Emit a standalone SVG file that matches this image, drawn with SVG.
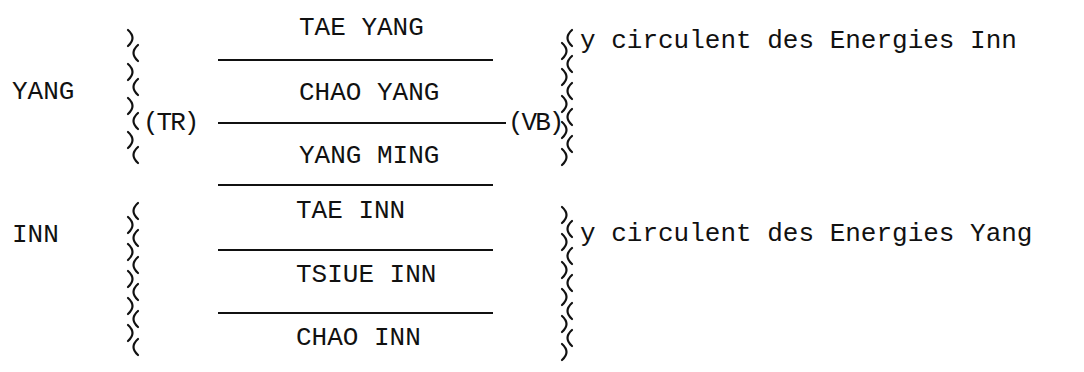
<svg xmlns="http://www.w3.org/2000/svg" width="1084" height="372" viewBox="0 0 1084 372">
<style>
text{font-family:"Liberation Mono","DejaVu Sans Mono",monospace;font-size:26px;fill:#111}
.tight{letter-spacing:-2px}
.r{stroke:#111;stroke-width:2;fill:none}
.b path{stroke:#111;stroke-width:2.2;fill:none;stroke-linecap:round}
</style>
<rect width="1084" height="372" fill="#fff"/>
<g id="label-yang"><text x="12" y="99">YANG</text></g>
<g id="label-inn"><text x="12" y="242">INN</text></g>
<g id="bracket-yang-left" class="b">
<path d="M128,30 q9,8 0,16"/><path d="M138,45 q-9,8 0,16"/>
<path d="M128,64 q9,8 0,16"/><path d="M138,79 q-9,8 0,16"/>
<path d="M128,98 q9,8 0,16"/><path d="M138,113 q-9,8 0,16"/>
<path d="M128,132 q9,8 0,16"/><path d="M138,147 q-9,8 0,16"/>
</g>
<g id="bracket-inn-left" class="b">
<path d="M138,203 q-9,8 0,16"/>
<path d="M128,217 q9,8 0,16"/><path d="M138,230 q-9,8 0,16"/>
<path d="M128,244 q9,8 0,16"/><path d="M138,257 q-9,8 0,16"/>
<path d="M128,271 q9,8 0,16"/><path d="M138,284 q-9,8 0,16"/>
<path d="M128,298 q9,8 0,16"/><path d="M138,311 q-9,8 0,16"/>
<path d="M128,325 q9,8 0,16"/><path d="M138,339 q-9,8 0,16"/>
</g>
<g id="tr"><text class="tight" x="143" y="130">(TR)</text></g>
<g id="vb"><text class="tight" x="508" y="130">(VB)</text></g>
<g id="meridians">
<text x="299" y="35">TAE YANG</text>
<text x="299" y="100">CHAO YANG</text>
<text x="299" y="163">YANG MING</text>
<text x="296" y="218">TAE INN</text>
<text x="296" y="282">TSIUE INN</text>
<text x="296" y="345">CHAO INN</text>
</g>
<g id="connectors">
<line class="r" x1="218" y1="60" x2="493" y2="60"/>
<line class="r" x1="218" y1="123" x2="506" y2="123"/>
<line class="r" x1="218" y1="185" x2="493" y2="185"/>
<line class="r" x1="218" y1="250" x2="493" y2="250"/>
<line class="r" x1="218" y1="313" x2="493" y2="313"/>
</g>
<g id="bracket-yang-right" class="b">
<path d="M572,30 q-9,8 0,16"/>
<path d="M562,43 q9,8 0,16"/><path d="M572,56 q-9,8 0,16"/>
<path d="M562,69 q9,8 0,16"/><path d="M572,83 q-9,8 0,16"/>
<path d="M562,96 q9,8 0,16"/><path d="M572,109 q-9,8 0,16"/>
<path d="M562,122 q9,8 0,16"/><path d="M572,136 q-9,8 0,16"/>
<path d="M562,149 q9,8 0,16"/>
</g>
<g id="bracket-inn-right" class="b">
<path d="M562,207 q9,8 0,16"/>
<path d="M572,221 q-9,8 0,16"/><path d="M562,234 q9,8 0,16"/>
<path d="M572,248 q-9,8 0,16"/><path d="M562,262 q9,8 0,16"/>
<path d="M572,275 q-9,8 0,16"/><path d="M562,289 q9,8 0,16"/>
<path d="M572,303 q-9,8 0,16"/><path d="M562,316 q9,8 0,16"/>
<path d="M572,330 q-9,8 0,16"/><path d="M562,344 q9,8 0,16"/>
</g>
<g id="note-inn"><text x="580" y="48">y circulent des Energies Inn</text></g>
<g id="note-yang"><text x="580" y="241">y circulent des Energies Yang</text></g>
</svg>
